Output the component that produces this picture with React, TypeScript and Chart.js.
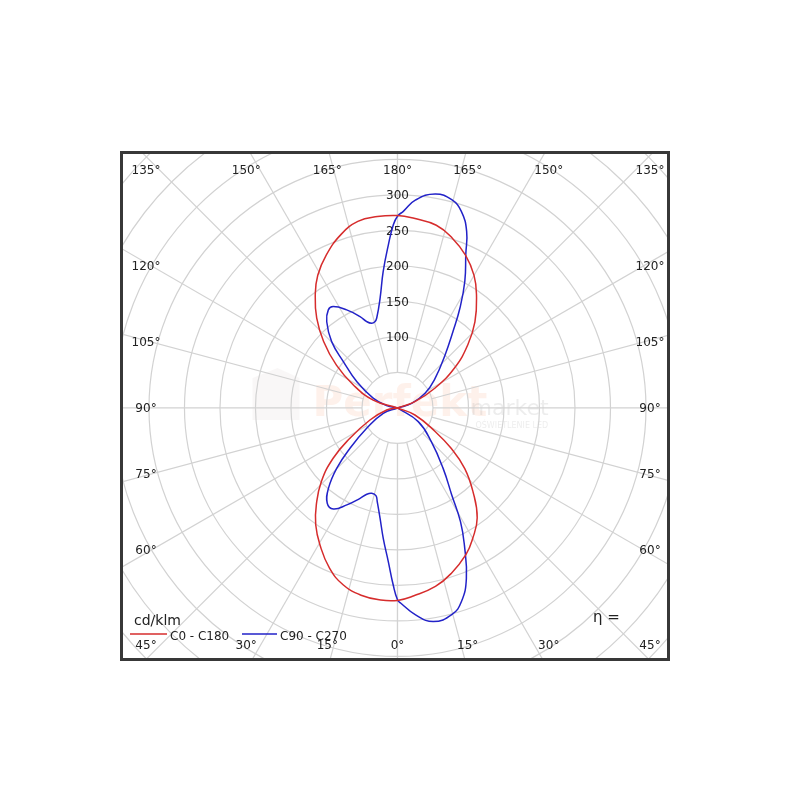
import { useEffect, useRef } from 'react';
import { Chart, registerables } from 'chart.js';

Chart.register(...registerables);

// Gamma angle (0° = down, 180° = up) and intensity in cd/klm
const RED_RIGHT_ANG = [0, 5, 12, 18, 25, 30, 36, 42, 48, 53, 58, 68, 90, 110, 118, 125, 132, 138, 145, 150, 156, 162, 168, 175, 180];
const RED_RIGHT_VAL = [271, 265.5, 257, 245, 228, 212, 191, 159, 127.5, 95, 62.5, 26.5, 0, 26, 60, 98, 133.5, 163, 194, 215.6, 235.5, 251, 263, 268, 271];
const RED_LEFT_ANG = [0, 5, 11, 17, 23, 29.5, 35, 40, 46, 52, 57.5, 66.4, 79.5, 90, 108, 117.5, 125, 132, 138, 144, 149, 155, 162, 168, 174, 180];
const RED_LEFT_VAL = [271, 271.5, 268.6, 260.7, 245, 221.7, 200.8, 177.8, 149, 115, 79.4, 42.3, 15.5, 0, 36, 70, 105, 140, 170, 197, 218, 237.5, 257, 268.6, 271, 271];

const BLUE_RIGHT_ANG = [0, 1, 5, 9.5, 14.7, 18.3, 22, 26, 29, 32, 37, 45, 56.6, 90, 108, 118, 128, 138, 144, 148, 152, 156, 158.6, 162, 165.4, 170, 175, 178.3, 180];
const BLUE_RIGHT_VAL = [270, 275, 292.5, 305, 301, 287, 259, 215, 183, 144, 107, 67.6, 35, 0, 21, 44, 67, 100, 133, 166, 202, 236.5, 267, 291, 303, 306, 294, 277, 270];
const BLUE_LEFT_ANG = [0, 1.4, 3.4, 6.2, 9, 12.2, 13.8, 16.8, 19.6, 22.5, 27.6, 32.4, 36.4, 40.7, 45.2, 49.7, 56.6, 69.5, 90, 102, 112, 122.8, 130.5, 135.2, 140.6, 144.8, 147.6, 152.6, 157.7, 160.4, 163, 165.3, 167, 171, 174, 176.8, 178.7, 180];
const BLUE_LEFT_VAL = [270, 249, 217, 185, 157, 135, 127.2, 125.6, 129, 137.7, 154, 168.5, 166.7, 149, 120.7, 87.7, 52, 21.4, 0, 15.6, 37, 68, 100, 131.6, 157, 169, 169, 155.5, 139, 129, 124.7, 125.5, 130, 156.5, 193, 230, 258, 270];

const SERIES_NAMES = ['C0 - C180', 'C90 - C270'];
const SERIES_COLORS = ['#d62c2c', '#2222c8'];
const UNIT_LABEL = 'cd/klm';
const ETA_LABEL = 'η =';

const RINGS = [50, 100, 150, 200, 250, 300, 350, 400, 450, 500, 550, 600];
const RADIAL_LABELS = [100, 150, 200, 250, 300];
const SPOKE_ANGLES = [0, 15, 30, 45, 60, 75, 90, 105, 120, 135, 150, 165, 180];

type P = { x: number; y: number };

function toPoint(a: number, v: number, side: number): P {
  const r = (a * Math.PI) / 180;
  return { x: side * v * Math.sin(r), y: -v * Math.cos(r) };
}

function dedupe(pts: P[]): P[] {
  return pts.filter((p, i) => i === 0 || Math.abs(p.x - pts[i - 1].x) > 1e-6 || Math.abs(p.y - pts[i - 1].y) > 1e-6);
}

function lobes(ra: number[], rv: number[], la: number[], lv: number[]) {
  const right = ra.map((a, i) => ({ a, p: toPoint(a, rv[i], 1) }));
  const left = la.map((a, i) => ({ a, p: toPoint(a, lv[i], -1) }));
  const upper = dedupe([
    ...right.filter((q) => q.a >= 90).map((q) => q.p),
    ...left.filter((q) => q.a >= 90).reverse().map((q) => q.p),
  ]);
  const lower = dedupe([
    ...left.filter((q) => q.a <= 90).reverse().map((q) => q.p),
    ...right.filter((q) => q.a <= 90).map((q) => q.p),
  ]);
  return [upper, lower];
}

const FONT = '"DejaVu Sans", sans-serif';

const polarPlugin = {
  id: 'polarGrid',
  beforeDatasetsDraw(chart: any) {
    const { ctx, chartArea: a, scales } = chart;
    const cx = scales.x.getPixelForValue(0);
    const cy = scales.y.getPixelForValue(0);
    const k = scales.x.getPixelForValue(1) - cx;
    ctx.save();
    ctx.beginPath();
    ctx.rect(a.left, a.top, a.right - a.left, a.bottom - a.top);
    ctx.clip();

    // watermark
    ctx.textBaseline = 'alphabetic';
    ctx.textAlign = 'left';
    ctx.fillStyle = 'rgba(215,200,195,0.14)';
    ctx.beginPath();
    ctx.moveTo(cx - 145, cy - 30);
    ctx.lineTo(cx - 120, cy - 40);
    ctx.lineTo(cx - 98, cy - 30);
    ctx.lineTo(cx - 98, cy + 12);
    ctx.lineTo(cx - 145, cy + 12);
    ctx.closePath();
    ctx.fill();
    ctx.font = 'bold 42px ' + FONT;
    ctx.fillStyle = 'rgba(245,140,90,0.12)';
    ctx.fillText('Perfekt', cx - 85, cy + 8);
    ctx.font = '22px ' + FONT;
    ctx.fillStyle = 'rgba(140,140,140,0.16)';
    ctx.fillText('market', cx + 73, cy + 7);
    ctx.font = '8px ' + FONT;
    ctx.fillText('OŚWIETLENIE LED', cx + 78, cy + 20);

    ctx.strokeStyle = '#d2d2d2';
    ctx.lineWidth = 1.2;
    RINGS.forEach((r) => {
      ctx.beginPath();
      ctx.arc(cx, cy, r * k, 0, Math.PI * 2);
      ctx.stroke();
    });
    const r0 = RINGS[0] * k;
    const r1 = 1000;
    SPOKE_ANGLES.forEach((g) => {
      const rad = (g * Math.PI) / 180;
      [1, -1].forEach((side) => {
        const dx = side * Math.sin(rad);
        const dy = Math.cos(rad);
        ctx.beginPath();
        ctx.moveTo(cx + dx * r0, cy + dy * r0);
        ctx.lineTo(cx + dx * r1, cy + dy * r1);
        ctx.stroke();
      });
    });

    // radial value labels
    ctx.fillStyle = '#222';
    ctx.font = '12px ' + FONT;
    ctx.textAlign = 'center';
    ctx.textBaseline = 'middle';
    RADIAL_LABELS.forEach((v) => {
      ctx.fillText(String(v), cx, cy - v * k + 1);
    });
    ctx.restore();
  },
  afterDatasetsDraw(chart: any) {
    const { ctx, chartArea: a, scales } = chart;
    const cx = scales.x.getPixelForValue(0);
    const cy = scales.y.getPixelForValue(0);
    ctx.save();
    ctx.fillStyle = '#222';
    ctx.font = '12px ' + FONT;
    ctx.textAlign = 'center';
    ctx.textBaseline = 'middle';
    const HW = 246;
    const HH = 262;
    const lx0 = a.left + 24;
    const lx1 = a.right - 18;
    const ly0 = a.top + 17;
    const ly1 = a.bottom - 14;
    SPOKE_ANGLES.forEach((g) => {
      const rad = (g * Math.PI) / 180;
      const sides = g === 0 || g === 180 ? [1] : [1, -1];
      sides.forEach((side) => {
        const dx = side * Math.sin(rad);
        const dy = Math.cos(rad);
        const tx = Math.abs(dx) > 1e-9 ? HW / Math.abs(dx) : Infinity;
        const ty = Math.abs(dy) > 1e-9 ? HH / Math.abs(dy) : Infinity;
        let x: number;
        let y: number;
        if (tx <= ty) {
          x = dx > 0 ? lx1 : lx0;
          y = Math.min(ly1, Math.max(ly0, cy + dy * tx));
        } else {
          y = dy > 0 ? ly1 : ly0;
          x = Math.min(lx1, Math.max(lx0, cx + dx * ty));
        }
        ctx.fillText(g + '°', x, y + 1);
      });
    });

    // legend
    ctx.textAlign = 'left';
    ctx.font = '14px ' + FONT;
    ctx.fillText(UNIT_LABEL, a.left + 12, a.bottom - 38);
    ctx.font = '15px ' + FONT;
    ctx.fillText(ETA_LABEL, a.right - 75, a.bottom - 41);
    const entries = [
      { x: a.left + 8, w: 37 },
      { x: a.left + 120, w: 35 },
    ];
    ctx.font = '12px ' + FONT;
    entries.forEach((e, i) => {
      ctx.strokeStyle = SERIES_COLORS[i];
      ctx.lineWidth = 1.5;
      ctx.beginPath();
      ctx.moveTo(e.x, a.bottom - 25);
      ctx.lineTo(e.x + e.w, a.bottom - 25);
      ctx.stroke();
      ctx.fillStyle = '#222';
      ctx.fillText(SERIES_NAMES[i], e.x + e.w + 3, a.bottom - 22);
    });

    // frame
    ctx.strokeStyle = '#383838';
    ctx.lineWidth = 3;
    ctx.strokeRect(a.left - 0.5, a.top - 0.5, a.right - a.left + 1, a.bottom - a.top + 1);
    ctx.restore();
  },
};

export default function App() {
  const ref = useRef<HTMLCanvasElement | null>(null);
  useEffect(() => {
    if (!ref.current) return;
    const [redUp, redLow] = lobes(RED_RIGHT_ANG, RED_RIGHT_VAL, RED_LEFT_ANG, RED_LEFT_VAL);
    const [blueUp, blueLow] = lobes(BLUE_RIGHT_ANG, BLUE_RIGHT_VAL, BLUE_LEFT_ANG, BLUE_LEFT_VAL);
    const mk = (data: P[], i: number) => ({
      label: SERIES_NAMES[i],
      data,
      showLine: true,
      borderColor: SERIES_COLORS[i],
      borderWidth: 1.5,
      pointRadius: 0,
      tension: 0.45,
      fill: false,
    });
    const chart = new Chart(ref.current, {
      type: 'scatter',
      data: {
        datasets: [mk(redUp, 0), mk(redLow, 0), mk(blueUp, 1), mk(blueLow, 1)],
      },
      options: {
        animation: false,
        responsive: false,
        devicePixelRatio: 1,
        layout: { padding: { left: 122, right: 132, top: 153, bottom: 141 } },
        scales: {
          x: { type: 'linear', min: -388, max: 381, display: false },
          y: { type: 'linear', min: -353.5, max: 359, display: false },
        },
        plugins: { legend: { display: false }, tooltip: { enabled: false } },
      },
      plugins: [polarPlugin],
    } as any);
    return () => chart.destroy();
  }, []);
  return (
    <div style={{ position: 'absolute', left: 0, top: 0, width: 800, height: 800, background: '#fff' }}>
      <canvas ref={ref} width={800} height={800} style={{ display: 'block', width: 800, height: 800 }} />
    </div>
  );
}
